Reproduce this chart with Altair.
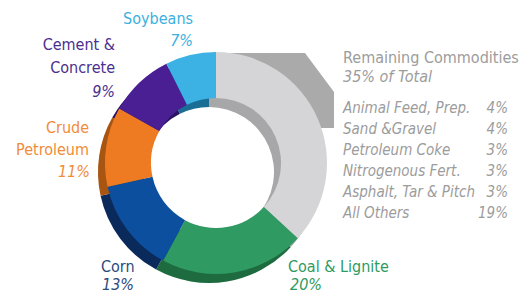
import altair as alt
import pandas as pd

# ---- data ----
categories = ["Remaining Commodities", "Coal & Lignite", "Corn", "Crude Petroleum", "Cement & Concrete", "Soybeans"]
shares = [35, 20, 13, 11, 9, 7]
face_colors = ["#d5d5d7", "#2f9a62", "#0c4f9f", "#ee7b22", "#4a1f94", "#3cb2e4"]
depth_colors = ["#a7a7a9", "#1d6b3f", "#0b2a5c", "#a85512", "#2d1363", "#1a6e96"]

other_names = ["Animal Feed, Prep.", "Sand &Gravel", "Petroleum Coke", "Nitrogenous Fert.", "Asphalt, Tar & Pitch", "All Others"]
other_pcts = ["4%", "4%", "3%", "3%", "3%", "19%"]

# ---- layout (pixel-like plot units) ----
W, H = 515, 286
CX, CY = 208, 155
R_OUT, R_IN = 111, 65
DEPTH_DX, DEPTH_DY = -7, 9

callout_x = [205, 297, 310, 326]
callout_top = [45, 45, 62.5, 84]
callout_bot = [80, 110, 120, 120]

FONT = "Liberation Sans Narrow, DejaVu Sans Condensed, sans-serif"
GRAY_TXT = "#9c9c9c"

pie = pd.DataFrame({
    "cat": categories, "share": shares, "idx": list(range(len(shares))),
    "face": face_colors, "depth": depth_colors,
})

xs = alt.Scale(domain=[0, W], nice=False, zero=False)
ys = alt.Scale(domain=[0, H], nice=False, zero=False, reverse=True)

callout = alt.Chart(pd.DataFrame({"x": callout_x, "y": callout_top, "y2": callout_bot})).mark_area(
    color="#aaaaaa", opacity=1
).encode(
    x=alt.X("x:Q", scale=xs, axis=None),
    y=alt.Y("y:Q", scale=ys, axis=None),
    y2="y2:Q",
)

depth = alt.Chart(pie).mark_arc(outerRadius=R_OUT, innerRadius=R_IN).encode(
    theta=alt.Theta("share:Q", stack=True),
    order=alt.Order("idx:Q"),
    color=alt.Color("depth:N", scale=None),
    x=alt.value(CX + DEPTH_DX), y=alt.value(CY + DEPTH_DY),
)

face = alt.Chart(pie).mark_arc(outerRadius=R_OUT, innerRadius=R_IN).encode(
    theta=alt.Theta("share:Q", stack=True),
    order=alt.Order("idx:Q"),
    color=alt.Color("face:N", scale=None),
    x=alt.value(CX), y=alt.value(CY),
)

def txt(rows, align, italic, size):
    df = pd.DataFrame(rows, columns=["t", "x", "y", "c"])
    return alt.Chart(df).mark_text(
        align=align, baseline="alphabetic", font=FONT, fontSize=size,
        fontStyle="italic" if italic else "normal",
    ).encode(
        x=alt.X("x:Q", scale=xs, axis=None),
        y=alt.Y("y:Q", scale=ys, axis=None),
        text="t:N",
        color=alt.Color("c:N", scale=None),
    )

SOY, CEM, CRU, CORN, COAL = "#3cb0e0", "#4b2f8f", "#f08c3a", "#2b4a7e", "#2f9a5f"

names_right = txt([
    ["Soybeans", 185, 16, SOY],
    ["Cement &", 107, 42, CEM],
    ["Concrete", 107, 65, CEM],
    ["Crude", 81, 125, CRU],
    ["Petroleum", 81, 147, CRU],
], "right", False, 16)

pct_right = txt([
    [f"{shares[5]}%", 185, 38, SOY],
    [f"{shares[4]}%", 107, 89, CEM],
    [f"{shares[3]}%", 82, 169, CRU],
], "right", True, 16)

names_left = txt([
    ["Corn", 93, 264, CORN],
    ["Coal & Lignite", 280, 264, COAL],
], "left", False, 16)

pct_left = txt([
    [f"{shares[2]}%", 94, 282, CORN],
    [f"{shares[1]}%", 282, 282, COAL],
], "left", True, 16)

rem_title = txt([["Remaining Commodities", 335, 55, GRAY_TXT]], "left", False, 16)
rem_sub = txt([[f"{shares[0]}% of Total", 335, 74, GRAY_TXT]], "left", True, 16)

list_y = [105, 126, 147, 168, 189, 210]
list_names = txt([[n, 335, y, GRAY_TXT] for n, y in zip(other_names, list_y)], "left", True, 15)
list_pcts = txt([[p, 500, y, GRAY_TXT] for p, y in zip(other_pcts, list_y)], "right", True, 15)

chart = alt.layer(
    callout, depth, face, names_right, pct_right, names_left, pct_left,
    rem_title, rem_sub, list_names, list_pcts,
).properties(width=W, height=H, padding=0).configure_view(stroke=None)

chart.save("out.html", embed_options={"renderer": "svg", "actions": False})
